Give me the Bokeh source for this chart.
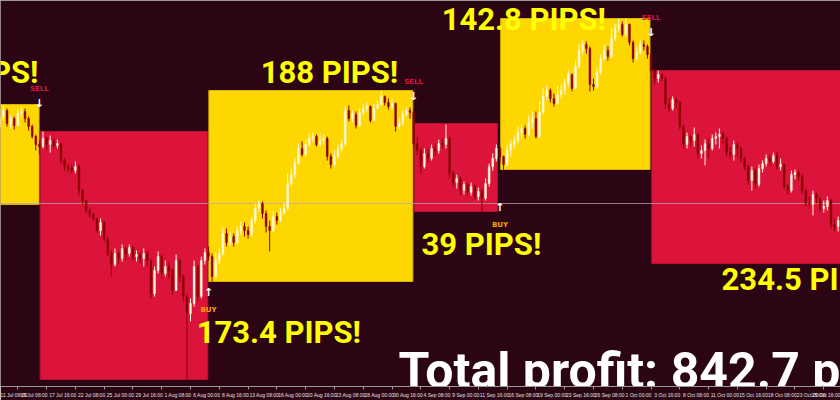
from bokeh.plotting import figure
from bokeh.models import ColumnDataSource, Range1d, FixedTicker, LinearAxis, AllLabels
from bokeh.core.properties import value
from bokeh.embed import file_html
from bokeh.resources import INLINE

# ---------------- data (H8 candles, price in chart units) ----------------
first_open = 272
closes = [
    282, 288, 275, 280, 273, 285, 287, 280, 272, 262, 254, 252,
    260, 254, 258, 253, 255, 238, 232, 230, 228, 232, 208, 198,
    188, 184, 180, 168, 176, 160, 145, 134, 145, 140, 150, 145,
    151, 142, 144, 140, 145, 138, 105, 128, 142, 125, 132, 128,
    108, 138, 122, 102, 85, 95, 132, 102, 138, 146,
    142, 122, 138, 145, 165, 156, 162, 156, 168, 172, 168, 164,
    178, 190, 195, 185, 172, 168, 182, 178, 186, 190, 215, 224,
    235, 250, 244, 254, 260, 262, 254, 258, 260, 242, 234, 242,
    250, 255, 288, 280, 284, 273, 286, 290, 292, 278, 290, 294,
    302, 296, 292, 295, 272, 275, 284, 288, 286, 255,
    248, 232, 245, 240, 250, 248, 255, 254, 260, 225, 216, 220,
    208, 214, 206, 212, 202, 207, 200, 215, 232, 240, 250,
    242, 234, 248, 254, 258, 266, 270, 264, 276, 280, 262, 286,
    302, 308, 300, 295, 304, 308, 316, 324, 310, 332, 348, 354,
    350, 314, 312, 326, 340, 348, 342, 360, 370, 374, 364, 374,
    356, 340, 346, 354, 352, 344, 328,
    320, 324, 320, 294, 290, 299, 296, 272, 254, 262, 258, 264,
    245, 248, 255, 250, 260, 262, 264, 260, 246, 244, 254, 250,
    240, 232, 218, 228, 214, 230, 235, 240, 237, 243, 232, 234,
    212, 208, 224, 226, 222, 208, 195, 194, 204, 200, 190, 192,
    198, 174, 172, 178, 164,
]
highs = [
    290, 293, 290, 284, 282, 289, 292, 290, 282, 274, 264, 258,
    267, 262, 263, 260, 259, 256, 240, 235, 234, 237, 234, 210,
    199, 191, 186, 180, 180, 178, 162, 148, 150, 148, 154, 152,
    154, 153, 148, 146, 150, 148, 140, 132, 147, 144, 138, 136,
    130, 144, 140, 124, 104, 100, 138, 134, 142, 150,
    152, 145, 146, 150, 171, 170, 167, 165, 172, 177, 176, 172,
    182, 195, 198, 197, 188, 178, 188, 186, 190, 196, 225, 230,
    240, 255, 257, 259, 264, 266, 264, 266, 264, 262, 245, 248,
    254, 259, 292, 293, 288, 287, 290, 294, 296, 293, 295, 298,
    308, 303, 300, 300, 296, 281, 288, 291, 291, 290,
    262, 250, 250, 250, 254, 255, 259, 260, 274, 262, 228, 224,
    222, 217, 215, 216, 214, 211, 210, 220, 235, 245, 254,
    252, 243, 254, 258, 263, 272, 274, 273, 283, 286, 287, 297,
    310, 313, 310, 305, 313, 314, 320, 328, 325, 338, 354, 358,
    357, 352, 320, 330, 344, 354, 352, 370, 375, 380, 377, 380,
    375, 358, 352, 358, 358, 354, 345,
    328, 328, 325, 322, 300, 302, 301, 298, 274, 266, 264, 271,
    265, 253, 259, 260, 264, 266, 270, 267, 262, 252, 258, 256,
    252, 242, 234, 232, 230, 234, 238, 244, 244, 246, 247, 240,
    235, 214, 228, 229, 228, 224, 210, 202, 208, 206, 201, 198,
    202, 200, 180, 182, 180,
]
lows = [
    270, 278, 272, 270, 269, 272, 281, 276, 268, 260, 248, 244,
    250, 248, 246, 250, 250, 234, 228, 226, 225, 225, 203, 194,
    186, 181, 178, 166, 163, 157, 142, 122, 132, 135, 137, 138,
    142, 138, 137, 135, 132, 132, 100, 102, 125, 120, 122, 120,
    104, 108, 116, 97, 19, 77, 92, 96, 100, 134,
    138, 117, 120, 134, 143, 152, 153, 152, 154, 164, 162, 160,
    162, 175, 186, 180, 166, 147, 166, 174, 176, 184, 188, 212,
    220, 234, 242, 242, 252, 257, 252, 252, 254, 238, 230, 232,
    240, 247, 253, 277, 276, 270, 272, 283, 286, 276, 278, 289,
    293, 293, 289, 289, 267, 269, 273, 282, 280, 252,
    243, 225, 230, 236, 238, 243, 245, 250, 250, 220, 212, 210,
    203, 204, 202, 203, 199, 198, 187, 198, 212, 228, 237,
    235, 229, 232, 242, 250, 255, 260, 260, 262, 270, 260, 260,
    284, 298, 296, 292, 294, 300, 304, 312, 307, 310, 330, 344,
    345, 307, 308, 310, 324, 338, 338, 340, 358, 367, 362, 362,
    353, 336, 338, 344, 348, 340, 326,
    314, 316, 317, 290, 286, 288, 290, 269, 250, 250, 253, 252,
    240, 240, 233, 240, 248, 254, 250, 254, 242, 240, 238, 242,
    236, 228, 214, 208, 210, 212, 226, 232, 233, 235, 229, 228,
    209, 204, 206, 219, 218, 205, 192, 190, 183, 195, 187, 186,
    188, 170, 167, 167, 160,
]

# time axis (bar index of each time label)
tick_bars = [-3, 5, 13, 21, 29, 37, 45, 53, 61, 69, 77, 85, 93, 101, 109,
             117, 125, 133, 141, 149, 157, 165, 173, 181, 189, 197, 205, 213, 221, 229]
tick_labels = ["11 Jul 08:00", "15 Jul 08:00", "17 Jul 16:00", "22 Jul 08:00", "25 Jul 00:00",
               "29 Jul 16:00", "1 Aug 08:00", "6 Aug 00:00", "8 Aug 16:00", "13 Aug 08:00",
               "16 Aug 00:00", "20 Aug 16:00", "23 Aug 08:00", "28 Aug 00:00", "30 Aug 16:00",
               "4 Sep 08:00", "9 Sep 00:00", "11 Sep 16:00", "16 Sep 08:00", "19 Sep 00:00",
               "23 Sep 16:00", "26 Sep 08:00", "1 Oct 00:00", "3 Oct 16:00", "8 Oct 08:00",
               "11 Oct 00:00", "15 Oct 16:00", "18 Oct 08:00", "23 Oct 00:00", "25 Oct 16:00"]

# trades (boxes span the trade's time and its high/low range)
box_left = [-10, 11.2, 58.1, 115.2, 139.2, 181.2]
box_right = [10.9, 57.8, 114.8, 138.3, 180.7, 245]
box_top = [294, 267, 308, 275, 380, 328]
box_bottom = [194, 19, 117, 187, 229, 135]
box_side = ["buy", "sell", "buy", "sell", "buy", "sell"]

# signals
sig_bar = [11, 58, 115, 139, 181]
sig_type = ["SELL", "BUY", "SELL", "BUY", "SELL"]
sig_price = [295, 106, 302, 191, 366]

# trade results
pips_text = ["65 PIPS!", "173.4 PIPS!", "188 PIPS!", "39 PIPS!", "142.8 PIPS!", "234.5 PIPS!"]
pips_bar = [10.75, 54.7, 72.5, 117.2, 122.8, 200.6]
pips_price = [317, 57, 317, 145, 370, 110]
pips_align = ["right", "left", "left", "left", "left", "left"]

total_text = "Total profit: 842.7 pips"
total_bar = 110.8
total_price = 13

level_price = 195

# ---------------- styles ----------------
BG = "#2c0514"
YELLOW = "#FFD700"
RED = "#DC143C"
BULL = "#FFF8DC"
BEAR = "#8B0000"
GRID = "#9a9a9a"
LABEL_SHIFT = 4.5

p = figure(width=840, height=400, x_range=Range1d(0.19, 233.65), y_range=Range1d(12, 398),
           output_backend="svg", toolbar_location=None, y_axis_location=None,
           background_fill_color=BG, border_fill_color=BG, outline_line_color=None,
           min_border_left=0, min_border_right=0, min_border_top=0, min_border_bottom=0)
p.grid.visible = False

# boxes
box_src = ColumnDataSource(dict(
    left=box_left, right=box_right, top=box_top, bottom=box_bottom,
    fill=[YELLOW if s == "buy" else RED for s in box_side],
    line=["#d9b200" if s == "buy" else "#b8102f" for s in box_side]))
p.quad(left="left", right="right", top="top", bottom="bottom", fill_color="fill",
       line_color="line", line_width=1, source=box_src)

p.hspan(y=[level_price], line_color="#b0a6ab", line_alpha=0.75, line_width=1)

# candles
opens = [first_open] + closes[:-1]
idx = list(range(len(closes)))
cols = [BULL if c >= o else BEAR for o, c in zip(opens, closes)]
src = ColumnDataSource(dict(
    x=idx, h=highs, l=lows,
    top=[max(o, c) for o, c in zip(opens, closes)],
    bot=[min(o, c) for o, c in zip(opens, closes)],
    col=cols))
p.segment(x0="x", y0="l", x1="x", y1="h", line_color="col", line_width=1, source=src)
p.vbar(x="x", width=0.5, top="top", bottom="bot", fill_color="col", line_color="col",
       line_width=0.5, source=src)

# signals
sig_src = ColumnDataSource(dict(
    x=sig_bar, y=sig_price,
    arrow=["\u2193" if t == "SELL" else "\u2191" for t in sig_type],
    label=sig_type,
    off=[-15 if t == "SELL" else 17 for t in sig_type],
    lcol=["#DC143C" if t == "SELL" else "#FFA500" for t in sig_type]))
p.text(x="x", y="y", text="arrow", text_align="center", text_baseline="middle",
       text_color="white", text_font=value("DejaVu Sans"), text_font_style="bold",
       text_font_size="11px", source=sig_src)
p.text(x="x", y="y", text="label", y_offset="off", text_align="center", text_baseline="middle",
       text_color="lcol", text_font=value("DejaVu Sans"), text_font_style="bold",
       text_font_size="7px", source=sig_src)

for al in ("left", "right"):
    sel = [i for i, a in enumerate(pips_align) if a == al]
    ps = ColumnDataSource(dict(x=[pips_bar[i] for i in sel], y=[pips_price[i] for i in sel],
                               t=[pips_text[i] for i in sel]))
    p.text(x="x", y="y", text="t", text_align=al, text_baseline="alphabetic", y_offset=-9,
           text_color="#FFFF00", text_font=value("Roboto"), text_font_style="bold",
           text_font_size="31px", source=ps)

p.text(x=[total_bar], y=[total_price], text=[total_text], text_align="left",
       text_baseline="alphabetic", y_offset=-15, text_color="white", text_font=value("Roboto"),
       text_font_style="bold", text_font_size="50px")

# time axis
xa = p.xaxis[0]
label_ticks = [b + LABEL_SHIFT for b in tick_bars]
xa.ticker = FixedTicker(ticks=label_ticks, minor_ticks=tick_bars)
xa.major_label_overrides = {t: lab for t, lab in zip(label_ticks, tick_labels)}
xa.major_label_policy = AllLabels()
xa.major_tick_out = 0
xa.major_tick_in = 0
xa.minor_tick_out = 3
xa.minor_tick_in = 0
xa.minor_tick_line_color = GRID
xa.axis_line_color = GRID
xa.major_label_text_color = "#e0e0e0"
xa.major_label_text_font = "Liberation Sans"
xa.major_label_text_font_size = "5px"
xa.major_label_standoff = 2

top_axis = LinearAxis(ticker=FixedTicker(ticks=[]), major_tick_out=0, major_tick_in=0,
                      minor_tick_out=0, minor_tick_in=0, major_label_text_font_size="0px",
                      axis_line_color=GRID, axis_line_width=1)
p.add_layout(top_axis, "above")

open("out.html", "w").write(file_html(p, INLINE, title="chart"))
